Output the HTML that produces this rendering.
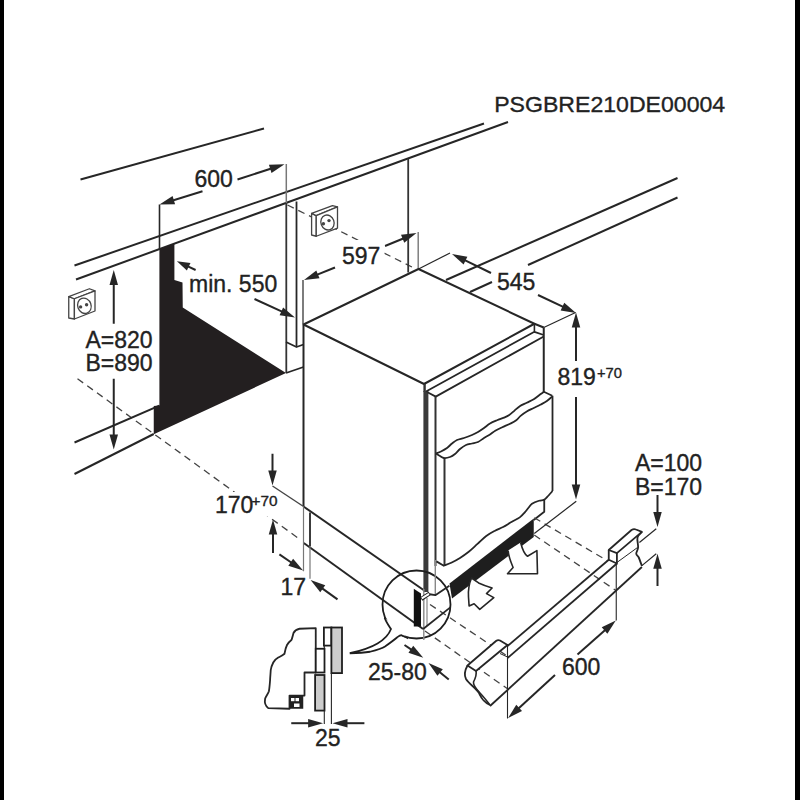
<!DOCTYPE html>
<html><head><meta charset="utf-8">
<style>
html,body{margin:0;padding:0;background:#fff;width:800px;height:800px;overflow:hidden}
svg{display:block}
text{font-family:"Liberation Sans",sans-serif;fill:#222}
</style></head><body>
<svg width="800" height="800" viewBox="0 0 800 800">
<rect x="0" y="0" width="4" height="800" fill="#000"/>
<rect x="795" y="0" width="5" height="800" fill="#000"/>
<line x1="77.5" y1="378.75" x2="298" y2="538" stroke="#444" stroke-width="1.3" stroke-dasharray="7,5"/>
<line x1="287.5" y1="205" x2="416" y2="269" stroke="#444" stroke-width="1.3" stroke-dasharray="7,5"/>
<line x1="80.5" y1="179.5" x2="264" y2="128.5" stroke="#262626" stroke-width="2" />
<line x1="74.5" y1="265.5" x2="484" y2="123.5" stroke="#262626" stroke-width="2" />
<line x1="76" y1="279.5" x2="508" y2="122" stroke="#262626" stroke-width="2" />
<line x1="677.5" y1="178" x2="446" y2="280" stroke="#262626" stroke-width="2" />
<line x1="677.5" y1="197.5" x2="528" y2="265" stroke="#262626" stroke-width="2" />
<line x1="492" y1="282" x2="470" y2="292" stroke="#262626" stroke-width="2" />
<line x1="74.5" y1="442.5" x2="159.4" y2="405.6" stroke="#262626" stroke-width="2" />
<line x1="74.5" y1="474" x2="153.75" y2="434" stroke="#262626" stroke-width="2" />
<path d="M159.4,249 L174.4,243.6 L174.4,280 L182.5,282.5 L182.75,307.5 L286,373 L153.75,434.3 L153.75,406 L159.4,405.6 Z" fill="#231f20"/>
<line x1="159.5" y1="204.5" x2="159.5" y2="250" stroke="#262626" stroke-width="1.6" />
<line x1="286.3" y1="164" x2="286.3" y2="203" stroke="#777" stroke-width="1.5" />
<line x1="286.3" y1="203" x2="286.3" y2="373" stroke="#333" stroke-width="1.8" />
<line x1="296.5" y1="201.5" x2="296.5" y2="347" stroke="#262626" stroke-width="1.8" />
<path d="M286,342 L296.5,347 L303.5,344.5" stroke="#262626" stroke-width="1.8" fill="none" stroke-linejoin="round" />
<path d="M286,373 L303.5,367" stroke="#262626" stroke-width="1.8" fill="none" stroke-linejoin="round" />
<line x1="408.2" y1="159" x2="408.2" y2="272.5" stroke="#333" stroke-width="1.8" />
<line x1="418.2" y1="232" x2="418.2" y2="268.6" stroke="#777" stroke-width="1.4" />
<line x1="303" y1="280" x2="303" y2="324" stroke="#262626" stroke-width="1.2" />
<line x1="418.5" y1="269" x2="450" y2="253" stroke="#262626" stroke-width="1.2" />
<line x1="543.75" y1="327.5" x2="575.6" y2="312.5" stroke="#262626" stroke-width="1.2" />
<path d="M68.75,296.6 L74.4,298.75 L74.4,319 L68.75,318 Z" stroke="#444" stroke-width="1.3" fill="#fff" stroke-linejoin="round" />
<path d="M68.75,296.6 L89.4,288.75 L95,290.9 L74.4,298.75 Z" stroke="#444" stroke-width="1.3" fill="#fff" stroke-linejoin="round" />
<path d="M74.4,298.75 L95,290.9 L95,311 L74.4,319 Z" stroke="#444" stroke-width="1.3" fill="#fff" stroke-linejoin="round" />
<ellipse cx="84.4" cy="305.8" rx="6.708" ry="7.8" transform="rotate(-20 84.4 305.8)" stroke="#444" stroke-width="1.3" fill="none"/>
<circle cx="80.6" cy="306.9" r="1.7" fill="#444"/>
<circle cx="86.6" cy="304.7" r="1.7" fill="#444"/>
<path d="M311.6,213.4 L316.25,215.6 L316.25,236.25 L311.6,235 Z" stroke="#444" stroke-width="1.3" fill="#fff" stroke-linejoin="round" />
<path d="M311.6,213.4 L332.5,205.6 L337.5,206.9 L316.25,215.6 Z" stroke="#444" stroke-width="1.3" fill="#fff" stroke-linejoin="round" />
<path d="M316.25,215.6 L337.5,206.9 L337.5,228.1 L316.25,236.25 Z" stroke="#444" stroke-width="1.3" fill="#fff" stroke-linejoin="round" />
<ellipse cx="327.5" cy="222.5" rx="6.536" ry="7.6" transform="rotate(-20 327.5 222.5)" stroke="#444" stroke-width="1.3" fill="none"/>
<circle cx="323.4" cy="223.75" r="1.7" fill="#444"/>
<circle cx="329" cy="220.6" r="1.7" fill="#444"/>
<path d="M303.5,324.5 L418.5,269 L534.4,323.75 L424,384 Z" stroke="#262626" stroke-width="2" fill="none" stroke-linejoin="round" />
<line x1="303.5" y1="324.5" x2="303.5" y2="506" stroke="#262626" stroke-width="2" />
<line x1="303.5" y1="506.5" x2="425" y2="591" stroke="#262626" stroke-width="2" />
<line x1="424.6" y1="384" x2="424.6" y2="392" stroke="#333" stroke-width="2.4" />
<line x1="425.9" y1="391" x2="425.9" y2="592" stroke="#3a3a3a" stroke-width="5" />
<line x1="543.75" y1="327.5" x2="543.75" y2="392" stroke="#262626" stroke-width="2" />
<path d="M534.4,323.75 L543.75,327.5" stroke="#262626" stroke-width="2" fill="none" stroke-linejoin="round" />
<line x1="534.4" y1="323.75" x2="534.4" y2="331.25" stroke="#262626" stroke-width="1.6" />
<path d="M426,391.5 L534.4,331.8 L543.75,335" stroke="#262626" stroke-width="1.8" fill="none" stroke-linejoin="round" />
<path d="M427.5,392.25 L435.75,396.6 L543.75,336.5" stroke="#262626" stroke-width="1.8" fill="none" stroke-linejoin="round" />
<line x1="435.5" y1="396.6" x2="435.5" y2="566" stroke="#333" stroke-width="2" />
<line x1="444.5" y1="458" x2="444.5" y2="566" stroke="#333" stroke-width="2" />
<path d="M436.00,453.50 C436.83,453.17 439.17,452.42 441.00,451.50 C442.83,450.58 445.17,449.33 447.00,448.00 C448.83,446.67 450.33,444.83 452.00,443.50 C453.67,442.17 455.00,440.92 457.00,440.00 C459.00,439.08 461.50,438.83 464.00,438.00 C466.50,437.17 469.67,436.00 472.00,435.00 C474.33,434.00 476.00,433.17 478.00,432.00 C480.00,430.83 482.00,429.42 484.00,428.00 C486.00,426.58 487.83,424.79 490.00,423.50 C492.17,422.21 494.67,421.23 497.00,420.25 C499.33,419.27 501.96,418.48 504.00,417.60 C506.04,416.73 507.50,416.17 509.25,415.00 C511.00,413.83 512.75,412.06 514.50,410.60 C516.25,409.14 517.71,407.56 519.75,406.25 C521.79,404.94 524.42,403.92 526.75,402.75 C529.08,401.58 531.42,400.71 533.75,399.25 C536.08,397.79 539.08,395.24 540.75,394.00 C542.42,392.76 543.29,392.17 543.80,391.80 L552.3,395.75" stroke="#262626" stroke-width="1.8" fill="none" stroke-linejoin="round" />
<path d="M436.00,453.50 C436.67,453.92 438.67,455.25 440.00,456.00 C441.33,456.75 442.33,457.83 444.00,458.00 C445.67,458.17 448.17,457.67 450.00,457.00 C451.83,456.33 453.33,455.33 455.00,454.00 C456.67,452.67 458.17,450.50 460.00,449.00 C461.83,447.50 464.00,445.92 466.00,445.00 C468.00,444.08 470.00,444.00 472.00,443.50 C474.00,443.00 476.00,442.92 478.00,442.00 C480.00,441.08 482.00,439.25 484.00,438.00 C486.00,436.75 488.12,435.71 490.00,434.50 C491.88,433.29 493.21,431.96 495.25,430.75 C497.29,429.54 499.77,428.42 502.25,427.25 C504.73,426.08 507.77,424.92 510.10,423.75 C512.43,422.58 514.50,421.56 516.25,420.25 C518.00,418.94 518.85,417.36 520.60,415.90 C522.35,414.44 524.56,412.82 526.75,411.50 C528.94,410.18 531.42,409.17 533.75,408.00 C536.08,406.83 538.56,405.67 540.75,404.50 C542.94,403.33 545.01,402.32 546.90,401.00 C548.79,399.68 551.23,397.33 552.10,396.60" stroke="#262626" stroke-width="1.8" fill="none" stroke-linejoin="round" />
<line x1="552.5" y1="395.75" x2="552.5" y2="491" stroke="#262626" stroke-width="1.8" />
<path d="M552.50,491.00 C551.57,492.04 548.35,495.77 546.90,497.25 C545.45,498.73 545.12,499.32 543.80,499.90 C542.48,500.48 540.97,500.10 539.00,500.75 C537.03,501.40 533.75,502.63 532.00,503.80 C530.25,504.97 529.67,506.37 528.50,507.75 C527.33,509.13 526.46,510.49 525.00,512.10 C523.54,513.71 521.93,515.79 519.75,517.40 C517.57,519.01 514.67,520.15 511.90,521.75 C509.12,523.35 505.92,525.50 503.10,527.00 C500.28,528.50 497.81,529.25 495.00,530.75 C492.19,532.25 489.17,533.81 486.25,536.00 C483.33,538.19 480.42,541.27 477.50,543.90 C474.58,546.52 471.67,549.42 468.75,551.75 C465.83,554.08 462.92,556.07 460.00,557.90 C457.08,559.73 453.95,561.39 451.25,562.70 C448.55,564.01 445.04,565.24 443.80,565.75 L436.4,561.4" stroke="#262626" stroke-width="1.8" fill="none" stroke-linejoin="round" />
<path d="M544.25,500 L544.25,511.7 L533.75,520" stroke="#262626" stroke-width="1.8" fill="none" stroke-linejoin="round" />
<path d="M449.5,583.5 L533.75,518.5 L533.75,537 L452,598.5 Z" fill="#1e1e1e"/>
<line x1="303.75" y1="543" x2="423.1" y2="629" stroke="#262626" stroke-width="2" />
<line x1="310" y1="512.5" x2="310" y2="546.25" stroke="#262626" stroke-width="1.8" />
<line x1="303.5" y1="506" x2="303.5" y2="571.25" stroke="#777" stroke-width="1.2" />
<line x1="310" y1="546" x2="310" y2="578.75" stroke="#777" stroke-width="1.2" />
<line x1="237.50" y1="179.50" x2="272.13" y2="168.26" stroke="#262626" stroke-width="2"/>
<path d="M284.50,164.25 L271.54,172.92 L268.92,164.84 Z" fill="#262626"/>
<line x1="202.50" y1="191.25" x2="171.92" y2="200.67" stroke="#262626" stroke-width="2"/>
<path d="M159.50,204.50 L172.58,196.02 L175.09,204.14 Z" fill="#262626"/>
<line x1="385.00" y1="246.00" x2="404.48" y2="237.96" stroke="#262626" stroke-width="2"/>
<path d="M416.50,233.00 L404.26,242.65 L401.01,234.79 Z" fill="#262626"/>
<line x1="335.00" y1="267.50" x2="316.06" y2="275.14" stroke="#262626" stroke-width="2"/>
<path d="M304.00,280.00 L316.32,270.45 L319.50,278.33 Z" fill="#262626"/>
<line x1="491.00" y1="273.00" x2="463.69" y2="259.69" stroke="#262626" stroke-width="2"/>
<path d="M452.00,254.00 L467.35,256.75 L463.62,264.39 Z" fill="#262626"/>
<line x1="538.00" y1="295.00" x2="564.25" y2="307.43" stroke="#262626" stroke-width="2"/>
<path d="M576.00,313.00 L560.62,310.42 L564.26,302.74 Z" fill="#262626"/>
<line x1="576.00" y1="361.00" x2="576.00" y2="325.50" stroke="#262626" stroke-width="2"/>
<path d="M576.00,312.50 L580.25,327.50 L571.75,327.50 Z" fill="#262626"/>
<line x1="576.00" y1="397.00" x2="576.00" y2="486.50" stroke="#262626" stroke-width="2"/>
<path d="M576.00,499.50 L571.75,484.50 L580.25,484.50 Z" fill="#262626"/>
<line x1="113.75" y1="323.75" x2="113.75" y2="283.00" stroke="#262626" stroke-width="2"/>
<path d="M113.75,270.00 L118.00,285.00 L109.50,285.00 Z" fill="#262626"/>
<line x1="113.75" y1="378.75" x2="113.75" y2="436.50" stroke="#262626" stroke-width="2"/>
<path d="M113.75,449.50 L109.50,434.50 L118.00,434.50 Z" fill="#262626"/>
<line x1="195.60" y1="270.00" x2="186.86" y2="265.91" stroke="#262626" stroke-width="2"/>
<path d="M176.90,261.25 L190.48,262.91 L186.87,270.61 Z" fill="#262626"/>
<line x1="254.50" y1="299.00" x2="283.18" y2="312.10" stroke="#262626" stroke-width="2"/>
<path d="M295.00,317.50 L279.59,315.13 L283.12,307.40 Z" fill="#262626"/>
<line x1="272.50" y1="453.75" x2="272.50" y2="472.60" stroke="#262626" stroke-width="2"/>
<path d="M272.50,485.60 L268.25,470.60 L276.75,470.60 Z" fill="#262626"/>
<line x1="273.00" y1="553.00" x2="273.00" y2="532.40" stroke="#262626" stroke-width="2"/>
<path d="M273.00,519.40 L277.25,534.40 L268.75,534.40 Z" fill="#262626"/>
<line x1="279.40" y1="554.40" x2="292.37" y2="563.26" stroke="#262626" stroke-width="2"/>
<path d="M303.10,570.60 L288.32,565.64 L293.11,558.63 Z" fill="#262626"/>
<line x1="337.50" y1="599.40" x2="321.14" y2="587.60" stroke="#262626" stroke-width="2"/>
<path d="M310.60,580.00 L325.25,585.33 L320.28,592.22 Z" fill="#262626"/>
<line x1="404.50" y1="645.00" x2="412.50" y2="650.44" stroke="#262626" stroke-width="2"/>
<path d="M423.25,657.75 L408.46,652.83 L413.24,645.80 Z" fill="#262626"/>
<line x1="448.75" y1="679.50" x2="438.58" y2="671.21" stroke="#262626" stroke-width="2"/>
<path d="M428.50,663.00 L442.81,669.18 L437.44,675.77 Z" fill="#262626"/>
<line x1="657.50" y1="495.00" x2="657.50" y2="514.00" stroke="#262626" stroke-width="2"/>
<path d="M657.50,527.00 L653.25,512.00 L661.75,512.00 Z" fill="#262626"/>
<line x1="657.50" y1="586.00" x2="657.50" y2="566.75" stroke="#262626" stroke-width="2"/>
<path d="M657.50,553.75 L661.75,568.75 L653.25,568.75 Z" fill="#262626"/>
<line x1="291.25" y1="723.20" x2="310.10" y2="723.20" stroke="#262626" stroke-width="2"/>
<path d="M323.10,723.20 L308.10,727.45 L308.10,718.95 Z" fill="#262626"/>
<line x1="364.40" y1="723.20" x2="345.50" y2="723.20" stroke="#262626" stroke-width="2"/>
<path d="M332.50,723.20 L347.50,718.95 L347.50,727.45 Z" fill="#262626"/>
<line x1="555.00" y1="675.00" x2="517.67" y2="709.30" stroke="#262626" stroke-width="2"/>
<path d="M508.10,718.10 L516.27,704.82 L522.02,711.08 Z" fill="#262626"/>
<line x1="577.50" y1="654.40" x2="606.05" y2="629.20" stroke="#262626" stroke-width="2"/>
<path d="M615.80,620.60 L607.37,633.71 L601.74,627.34 Z" fill="#262626"/>
<line x1="272.5" y1="486" x2="303.5" y2="506.5" stroke="#444" stroke-width="1.4" />
<line x1="656.25" y1="528.75" x2="639.4" y2="542.5" stroke="#262626" stroke-width="1.2" />
<line x1="656.25" y1="553.75" x2="641.9" y2="565.6" stroke="#262626" stroke-width="1.2" />
<line x1="534.25" y1="517.75" x2="607" y2="560.5" stroke="#444" stroke-width="1.3" stroke-dasharray="7,5"/>
<line x1="534.25" y1="535" x2="616" y2="590.5" stroke="#444" stroke-width="1.3" stroke-dasharray="7,5"/>
<line x1="430" y1="604.5" x2="507.5" y2="656.25" stroke="#444" stroke-width="1.3" stroke-dasharray="7,5"/>
<line x1="425" y1="631" x2="507.5" y2="688.75" stroke="#444" stroke-width="1.3" stroke-dasharray="7,5"/>
<line x1="576.25" y1="501.25" x2="534.25" y2="533.5" stroke="#262626" stroke-width="1.2" />
<path d="M508.1,550.6 C508.5,555 509,558 513.1,567.5 L507.5,573.75 L537.5,573.75 L536.9,550.6 L527.5,556.25 C524,554 522,548 520.6,542.5" stroke="#262626" stroke-width="1.6" fill="#fff" stroke-linejoin="round" />
<path d="M471.5,578 C469,584 468,590 468.5,597 L469.1,606 L474.1,603.75 L479.75,609.4 L493.8,597.6 L486.5,593.6 L492.1,588 C486,586 481,584 478.6,582.9 Z" stroke="#262626" stroke-width="1.6" fill="#fff" stroke-linejoin="round" />
<path d="M467.5,665.5 L496,641 Q498,639.5 500,640.5 L507.5,645 L476,671 Z" stroke="#262626" stroke-width="1.8" fill="#fff" stroke-linejoin="round" />
<path d="M467.5,665.5 C465,670 464,675 466,679 C469,684 476,688 479,693 C481,697 482,701 490,705" stroke="#262626" stroke-width="1.8" fill="none" stroke-linejoin="round" />
<path d="M476,671 C477,675 475,679 473.5,682 C473,686 477,690 480,693 C483,696 486,700 490,705" stroke="#262626" stroke-width="1.6" fill="none" stroke-linejoin="round" />
<line x1="507.5" y1="646" x2="608.75" y2="559.75" stroke="#262626" stroke-width="1.8" />
<line x1="507.5" y1="658" x2="616.9" y2="563.5" stroke="#262626" stroke-width="1.8" />
<line x1="490" y1="706" x2="641.9" y2="567" stroke="#262626" stroke-width="1.8" />
<line x1="500" y1="653.5" x2="507.5" y2="657" stroke="#262626" stroke-width="1" />
<path d="M608.75,550 L631.5,530 Q633.75,528.5 636,529.5 L641.9,531.9 L616.9,553.1 Z" stroke="#262626" stroke-width="1.8" fill="#fff" stroke-linejoin="round" />
<path d="M608.75,550 L608.75,559.75 L616.9,563.5 L616.9,553.1" stroke="#262626" stroke-width="1.8" fill="none" stroke-linejoin="round" />
<path d="M641.90,531.90 C641.17,532.83 638.13,534.90 637.50,537.50 C636.87,540.10 638.31,544.79 638.10,547.50 C637.89,550.21 636.14,552.08 636.25,553.75 C636.36,555.42 637.81,555.46 638.75,557.50 C639.69,559.54 641.38,564.58 641.90,566.00" stroke="#262626" stroke-width="1.8" fill="none" stroke-linejoin="round" />
<line x1="616.9" y1="562.5" x2="637.5" y2="547.5" stroke="#262626" stroke-width="1" />
<line x1="507.5" y1="644" x2="507.5" y2="718.5" stroke="#262626" stroke-width="1.1" />
<line x1="616.25" y1="562.5" x2="616.25" y2="620.5" stroke="#262626" stroke-width="1.1" />
<circle cx="416.5" cy="604.5" r="34" fill="none" stroke="#1e1e1e" stroke-width="1.8"/>
<path d="M413.8,588.8 L421,593.5 L421,626.5 L413.8,626.5 Z" fill="#111"/>
<line x1="423.8" y1="589" x2="423.8" y2="640" stroke="#888" stroke-width="1.4" />
<line x1="427" y1="598" x2="427" y2="626" stroke="#999" stroke-width="1.4" />
<line x1="435.3" y1="560" x2="435.3" y2="595" stroke="#888" stroke-width="1.4" />
<path d="M421.25,599 L429.7,593.3" stroke="#222" stroke-width="4" fill="none" stroke-linejoin="round" />
<path d="M421.8,598.4 L429,593.8" stroke="#fff" stroke-width="2" fill="none" stroke-linejoin="round" />
<path d="M429.7,594.25 L435.3,595.2 L449.4,585.8" stroke="#262626" stroke-width="1.8" fill="none" stroke-linejoin="round" />
<path d="M423.1,629 L450.3,607.4" stroke="#262626" stroke-width="1.8" fill="none" stroke-linejoin="round" />
<path d="M384.7,617.7 C386,622 389,626 391,629 C389.5,633 385,639 377.5,643.5 C370,648 360,651 349.75,653.25 C358,653 365,652.5 370,651.75 C377,650 382,648.5 385,646.5 C390,643 394,640 397,637.5 C399,636 400,635 401.5,635.25 C404,636 406,637.5 408,638.3" fill="#fff" stroke="#1e1e1e" stroke-width="1.8"/>
<path d="M315.75,628.1 L299.5,628.75 C296,629.5 294.5,631 293.5,633 C292.5,637 292,639 291.4,640 C289,642 287.5,644 287,645 C285.5,648 285,651 284.5,653.75 C282,656 280,656.5 278.25,657.5 C275.5,659 274,661 273.25,662.5 C271.5,666 271,668 270.75,670 C270.5,674 270.2,677 270.1,680 C269.8,684 269.5,688 268.9,691.25 C268,694 266,696 265.1,698.75 C264.5,702 265.5,706 268.25,708.1 L289.5,708.75 L289.5,695.6 L304.5,695.6 L304.5,672.5 L315.75,672.5 Z" stroke="#262626" stroke-width="1.8" fill="#fff" stroke-linejoin="round" />
<rect x="289.5" y="695.6" width="13.75" height="13.15" fill="#222"/>
<rect x="291" y="698" width="3.5" height="3.2" fill="#fff"/><rect x="295.5" y="698" width="3.5" height="3.2" fill="#fff"/><rect x="294" y="703.5" width="5.5" height="3.5" fill="#fff"/>
<rect x="315.75" y="648.75" width="8.75" height="23.75" fill="#fff" stroke="#1e1e1e" stroke-width="1.8"/>
<rect x="323.9" y="627.5" width="7.5" height="18.1" fill="#fff" stroke="#1e1e1e" stroke-width="1.8"/>
<rect x="331.4" y="627.5" width="10.6" height="45.6" fill="#ccc" stroke="#1e1e1e" stroke-width="1.8"/>
<rect x="315.1" y="675" width="9.4" height="35.6" fill="#ccc" stroke="#1e1e1e" stroke-width="1.8"/>
<line x1="324.3" y1="645.6" x2="324.3" y2="648.75" stroke="#262626" stroke-width="1.2" />
<line x1="324.3" y1="710.6" x2="324.3" y2="724" stroke="#262626" stroke-width="1.1" />
<line x1="331.4" y1="673.1" x2="331.4" y2="724" stroke="#262626" stroke-width="1.1" />
<text x="494.2" y="112.2" font-size="22.8" stroke="#222" stroke-width="0.35" textLength="231" lengthAdjust="spacingAndGlyphs">PSGBRE210DE00004</text>
<text x="194.5" y="187" font-size="23" stroke="#222" stroke-width="0.35">600</text>
<rect x="339" y="240" width="45.5" height="27.5" fill="#fff"/>
<text x="342" y="263.75" font-size="23" stroke="#222" stroke-width="0.35">597</text>
<text x="497" y="290" font-size="23" stroke="#222" stroke-width="0.35">545</text>
<text x="189" y="292" font-size="23" stroke="#222" stroke-width="0.35">min. 550</text>
<text x="85.5" y="348" font-size="23" stroke="#222" stroke-width="0.35">A=820</text>
<text x="85.5" y="371" font-size="23" stroke="#222" stroke-width="0.35">B=890</text>
<text x="557.5" y="385" font-size="23" stroke="#222" stroke-width="0.35">819</text>
<text x="597" y="377.5" font-size="14.5" stroke="#222" stroke-width="0.35" textLength="25" lengthAdjust="spacingAndGlyphs">+70</text>
<rect x="213" y="492" width="66" height="24.5" fill="#fff"/>
<text x="215" y="512.5" font-size="23" stroke="#222" stroke-width="0.35">170</text>
<text x="251.5" y="506" font-size="14.5" stroke="#222" stroke-width="0.35" textLength="26" lengthAdjust="spacingAndGlyphs">+70</text>
<text x="280.5" y="595" font-size="23" stroke="#222" stroke-width="0.35">17</text>
<text x="635" y="471.2" font-size="23" stroke="#222" stroke-width="0.35">A=100</text>
<text x="635" y="494.5" font-size="23" stroke="#222" stroke-width="0.35">B=170</text>
<text x="368" y="680.25" font-size="23" stroke="#222" stroke-width="0.35">25-80</text>
<text x="315" y="746.25" font-size="23" stroke="#222" stroke-width="0.35">25</text>
<text x="562" y="674.8" font-size="23" stroke="#222" stroke-width="0.35">600</text>
</svg>
</body></html>
